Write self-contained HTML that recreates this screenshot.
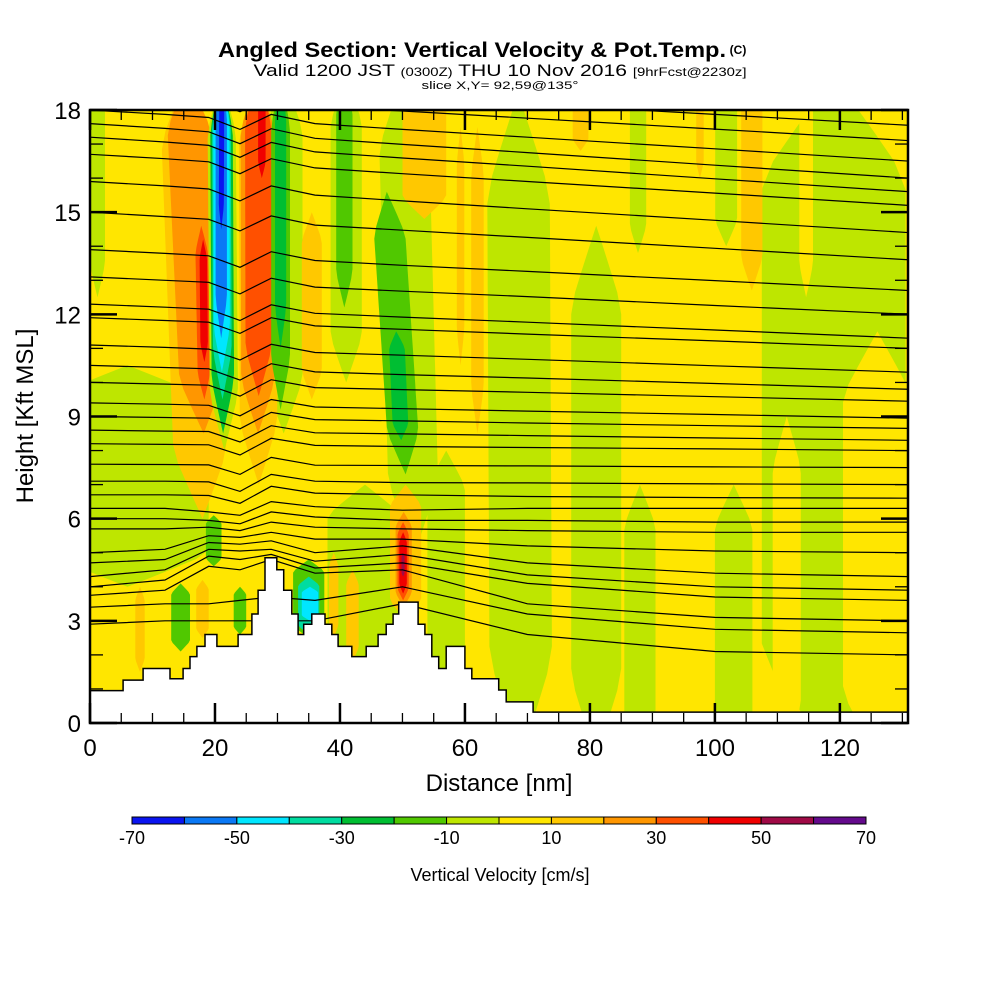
<!DOCTYPE html>
<html><head><meta charset="utf-8"><style>
html,body{margin:0;padding:0;background:#fff;}
svg{display:block;font-family:"Liberation Sans",Arial,sans-serif;}
</style></head><body>
<svg id="chart" width="1000" height="1000" viewBox="0 0 1000 1000">
<defs><clipPath id="plotclip"><rect x="90" y="110" width="818" height="613"/></clipPath></defs>
<text x="472" y="57" text-anchor="middle" font-size="21" font-weight="bold" textLength="508" lengthAdjust="spacingAndGlyphs">Angled Section: Vertical Velocity &amp; Pot.Temp.</text>
<text x="738" y="54" text-anchor="middle" font-size="12" font-weight="bold">(C)</text>
<text x="500" y="76" text-anchor="middle" font-size="17" textLength="493" lengthAdjust="spacingAndGlyphs">Valid 1200 JST <tspan font-size="12">(0300Z)</tspan> THU 10 Nov 2016 <tspan font-size="12">[9hrFcst@2230z]</tspan></text>
<text x="500" y="89" text-anchor="middle" font-size="11" textLength="157" lengthAdjust="spacingAndGlyphs">slice X,Y= 92,59@135°</text>
<rect x="90" y="110" width="818" height="613" fill="#ffe600"/>
<g id="bands" clip-path="url(#plotclip)"></g>
<g id="contours" clip-path="url(#plotclip)"></g>
<g id="terrain" clip-path="url(#plotclip)"></g>
<g id="axes"></g>
<text x="499" y="791" text-anchor="middle" font-size="24">Distance [nm]</text>
<text transform="translate(33,416) rotate(-90)" text-anchor="middle" font-size="24">Height [Kft MSL]</text>
<g id="colorbar"></g>
<text x="500" y="881" text-anchor="middle" font-size="18">Vertical Velocity [cm/s]</text>
</svg>
<script>
// ---- data ----
const xTicks = [0,20,40,60,80,100,120];
const yTicks = [0,3,6,9,12,15,18];
const cbLevels = [-70,-60,-50,-40,-30,-20,-10,0,10,20,30,40,50,60,70];
const cbLabels = [-70,-50,-30,-10,10,30,50,70];
const cbColors = ["#0a14f0","#0a78f5","#00e6ff","#00dca0","#00be32","#50c800","#bee600","#ffe600","#ffc800","#ff9600","#ff5000","#f00000","#a00a46","#640a8c"];
// velocity features: top centre (nm), bottom centre (nm), width (nm), top (kft), bottom (kft), value (cm/s)
const bandTopX = [1.2,6,31,41,50,44,57,68.5,81,87.7,101.8,119,114.6,126,111.5,88,103, 15.3,15.5,17.8,18.1, 21,21,21,21,21,21.1, 26.8,26.8,26.9,27.5, 30.5,30.5,35.5,40.7,47.5,49,53.5,59.3,62,105.9,97.6,78.5, 14.5,24,19.8,35,35,35.2,50.5,50.2,50.1,50.1,50.1,8,18,42,39];
const bandBotX = [1.2,6,31,41,52,44,57,69,81,87.7,101.8,119,114.6,126,111.5,88,103, 18,18.2,18.3,18.3, 21.5,21.3,21.2,21.1,21,21, 27,26.9,27,27.5, 30.5,30.5,35.5,40.7,50.5,49.8,53.5,59.3,62,105.9,97.6,78.5, 14.5,24,19.8,35,35,35.2,50.5,50.2,50.1,50.1,50.1,8,18,42,39];
const bandWidth = [2.4,26,6,5,8,12,6,10,8,2.6,3.5,23,2.2,11,4.5,5,6, 8.5,7,2,1.2, 4.5,3.6,3,2.6,1.8,0.8, 6,5.4,4.2,1.2, 3,1.8,3.2,2.6,5,2.5,7,1.2,2,3.4,1.2,2.5, 3,2,2.5,5,3.4,2.6,5,2.6,1.8,1.2,0.5,1.5,2,2,1.5];
const bandTop = [19,10.5,19,19,19,7,8,18.5,14.6,19,19,19,19,11.5,9,7,7, 19,19,14.6,14.2, 19,19,19,19,19,19, 19,19,19,19, 19,19,15,19,15.6,11.5,19,17.5,17.5,19,19,19, 4.1,4,6.1,4.8,4.3,4,7,6.2,5.9,5.6,5,4,4.2,4.5,5];
const bandBot = [12.5,4.0,8.5,10,5,1,1,-1,-1,13.8,14,-1,12.5,-1,-1,-1,-1, 6,8.5,9.5,10.6, 8,8.5,9.5,10.3,11.3,14.5, 7,8.5,9.6,16, 9.2,11,9.5,12.2,7.3,8.3,14.8,10.5,8.5,12.7,16,16.8, 2.1,2.6,4.6,2.5,2.6,3,3,3.4,3.6,3.8,4.3,1.5,2.5,1.8,2.5];
const bandValue = [-5,-5,-5,-5,-5,-5,-5,-5,-5,-5,-5,-5,5,5,5,-5,-5, 15,25,35,45, -5,-25,-35,-45,-55,-65, 15,25,35,45, -15,-25,15,-15,-15,-25,15,15,15,15,15,15, -15,-15,-15,-15,-35,-45,15,25,35,45,55,15,15,15,15];
// terrain steps: from distance (nm) onward, ground height (kft)
const terrainX = [0,5.3,8.5,12.8,14.9,16,17.1,18.4,20.3,23.7,25.9,26.9,28,29.9,31,32.3,33.3,34.2,35.5,37.6,38.7,39.7,41.9,44.2,46.1,47.4,48.5,49.4,52.5,53.6,54.7,55.8,57,60,61.1,65.4,66.6,70.9];
const terrainH = [0.95,1.26,1.6,1.3,1.6,1.95,2.25,2.6,2.25,2.6,3.2,3.9,4.85,4.5,3.9,3.2,2.6,2.9,3.2,2.9,2.6,2.25,1.95,2.25,2.6,2.9,3.2,3.55,2.9,2.6,1.95,1.6,2.25,1.6,1.3,0.97,0.62,0.32];
// potential temperature contours: heights (kft) at these distances (nm)
const contourX = [0,12,19,24,29,36,50,70,100,131];
const contourH = [
[18.9,18.78,18.7,18.36,18.8,18.54,18.39,18.18,17.87,17.55],
[18.5,18.37,18.29,17.95,18.39,18.12,17.97,17.76,17.44,17.1],
[18.0,17.87,17.78,17.43,17.87,17.6,17.43,17.2,16.86,16.5],
[17.6,17.46,17.36,17.01,17.45,17.17,16.99,16.75,16.38,16.0],
[17.2,17.06,16.96,16.61,17.05,16.77,16.59,16.35,15.98,15.6],
[16.7,16.57,16.48,16.13,16.57,16.3,16.13,15.9,15.56,15.2],
[15.9,15.77,15.68,15.33,15.77,15.5,15.33,15.1,14.76,14.4],
[15.0,14.87,14.79,14.45,14.89,14.62,14.47,14.26,13.94,13.6],
[13.9,13.79,13.72,13.38,13.84,13.58,13.44,13.26,12.99,12.7],
[13.1,13.0,12.94,12.6,13.06,12.8,12.68,12.52,12.26,12.0],
[12.3,12.21,12.15,11.82,12.28,12.03,11.92,11.77,11.54,11.3],
[11.9,11.82,11.77,11.44,11.9,11.66,11.56,11.42,11.22,11.0],
[11.1,11.03,10.98,10.66,11.12,10.88,10.8,10.68,10.49,10.3],
[10.5,10.44,10.4,10.07,10.55,10.31,10.23,10.13,9.97,9.8],
[10.0,9.95,9.92,9.6,10.08,9.85,9.79,9.71,9.58,9.45],
[9.4,9.36,9.33,9.02,9.5,9.28,9.23,9.16,9.06,8.95],
[9.0,8.97,8.95,8.64,9.12,8.91,8.87,8.81,8.73,8.65],
[8.6,8.57,8.56,8.25,8.73,8.52,8.49,8.44,8.37,8.3],
[8.2,8.18,8.17,7.87,8.36,8.15,8.12,8.09,8.05,8.0],
[7.6,7.59,7.58,7.3,7.8,7.57,7.56,7.55,7.52,7.5],
[7.1,7.1,7.08,6.8,7.3,7.1,7.06,7.05,7.02,7.0],
[6.7,6.7,6.68,6.45,6.95,6.75,6.7,6.65,6.62,6.6],
[6.3,6.3,6.2,6.1,6.5,6.35,6.25,6.3,6.3,6.3],
[6.0,6.0,5.95,5.85,6.2,6.05,5.95,5.95,5.9,5.9],
[5.7,5.7,5.75,5.65,5.9,5.75,5.7,5.65,5.6,5.6],
[5.0,5.1,5.5,5.45,5.6,5.4,5.4,5.2,5.05,5.0],
[4.7,4.8,5.3,5.25,5.35,5.0,5.2,4.7,4.4,4.3],
[4.3,4.5,5.1,5.05,5.1,4.75,4.95,4.35,4.0,3.9],
[4.0,4.2,4.9,4.8,4.95,4.55,4.7,4.1,3.7,3.6],
[3.75,3.9,4.6,4.5,4.8,4.4,4.5,3.5,3.1,3.0],
[3.4,3.5,3.5,3.6,3.7,3.6,4.0,3.2,2.75,2.65],
[2.9,3.0,3.0,3.0,3.0,3.0,3.5,2.6,2.1,2.0]
];
// ---- scales ----
const X0=90, X1=908, Y0=723, Y1=110, DMAX=130.9, HMAX=18;
function xs(d){return X0 + d*(X1-X0)/DMAX;}
function ys(h){return Y0 - h*(Y0-Y1)/HMAX;}
function colorFor(v){
  for(let i=0;i<cbColors.length;i++){ if(v>=cbLevels[i] && v<cbLevels[i+1]) return cbColors[i]; }
  return v<cbLevels[0]?cbColors[0]:cbColors[cbColors.length-1];
}
const NS="http://www.w3.org/2000/svg";
function mk(tag, attrs, parent){const e=document.createElementNS(NS,tag);for(const k in attrs)e.setAttribute(k,attrs[k]);parent.appendChild(e);return e;}
// ---- bands ----
const gB=document.getElementById('bands');
for(let i=0;i<bandValue.length;i++){
  const left=[], right=[];
  const N=24;
  for(let k=0;k<=N;k++){
    const t=k/N;
    const c=bandBotX[i]+(bandTopX[i]-bandBotX[i])*t;
    const h=bandBot[i]+(bandTop[i]-bandBot[i])*t;
    const hw=bandWidth[i]/2*Math.min(1,2.2*Math.sin(Math.PI*t));
    left.push(xs(c-hw).toFixed(1)+','+ys(h).toFixed(1));
    right.unshift(xs(c+hw).toFixed(1)+','+ys(h).toFixed(1));
  }
  const p=mk('polygon',{points:left.concat(right).join(' '),fill:colorFor(bandValue[i])},gB);
  
  
}
// ---- contours ----
const gC=document.getElementById('contours');
contourH.forEach((row,j)=>{
  let d='';
  row.forEach((h,k)=>{d+=(k?'L':'M')+xs(contourX[k]).toFixed(1)+','+ys(h).toFixed(1);});
  const p=mk('path',{d:d,fill:'none',stroke:'#000','stroke-width':1.2},gC);
  
  
});
// ---- terrain ----
const gT=document.getElementById('terrain');
let td='M'+xs(0)+','+ys(-1);
for(let i=0;i<terrainX.length;i++){
  td+='L'+xs(terrainX[i]).toFixed(1)+','+ys(terrainH[i]).toFixed(1);
  const nx = i+1<terrainX.length ? terrainX[i+1] : DMAX+1;
  td+='L'+xs(nx).toFixed(1)+','+ys(terrainH[i]).toFixed(1);
}
td+='L'+xs(DMAX+1)+','+ys(-1)+'Z';
const tp=mk('path',{d:td,fill:'#fff',stroke:'#000','stroke-width':1.5},gT);


// ---- axes ----
const gA=document.getElementById('axes');
const fr=mk('rect',{x:X0,y:Y1,width:X1-X0,height:Y0-Y1,fill:'none',stroke:'#000','stroke-width':2.5},gA);


for(let d=0; d<=DMAX; d+=5){
  const major = d%20===0, L = major?20:10;
  mk('line',{x1:xs(d),x2:xs(d),y1:Y0,y2:Y0-L,stroke:'#000','stroke-width':major?2.5:1.3},gA);
  mk('line',{x1:xs(d),x2:xs(d),y1:Y1,y2:Y1+L,stroke:'#000','stroke-width':major?2.5:1.3},gA);
}
for(let h=0; h<=HMAX; h+=1){
  const major = h%3===0, L = major?27:13;
  mk('line',{x1:X0,x2:X0+L,y1:ys(h),y2:ys(h),stroke:'#000','stroke-width':major?2.5:1.3},gA);
  mk('line',{x1:X1,x2:X1-L,y1:ys(h),y2:ys(h),stroke:'#000','stroke-width':major?2.5:1.3},gA);
}
xTicks.forEach(v=>{
  const t=mk('text',{x:xs(v),y:756,'text-anchor':'middle','font-size':24},gA);
  t.textContent=v;
  
  
});
yTicks.forEach(v=>{
  const t=mk('text',{x:81,y:ys(v)+9,'text-anchor':'end','font-size':24},gA);
  t.textContent=v;
  
  
});
// ---- colorbar ----
const gCB=document.getElementById('colorbar');
const CB0=132, CB1=866, segW=(CB1-CB0)/cbColors.length;
cbColors.forEach((c,i)=>{
  const r=mk('rect',{x:CB0+i*segW,y:817,width:segW,height:7,fill:c,stroke:'#000','stroke-width':1},gCB);
  
  
});
cbLabels.forEach(v=>{
  const t=mk('text',{x:CB0+(v-cbLevels[0])/(cbLevels[cbLevels.length-1]-cbLevels[0])*(CB1-CB0),y:844,'text-anchor':'middle','font-size':18},gCB);
  t.textContent=v;
  
  
});
</script>
</body></html>
